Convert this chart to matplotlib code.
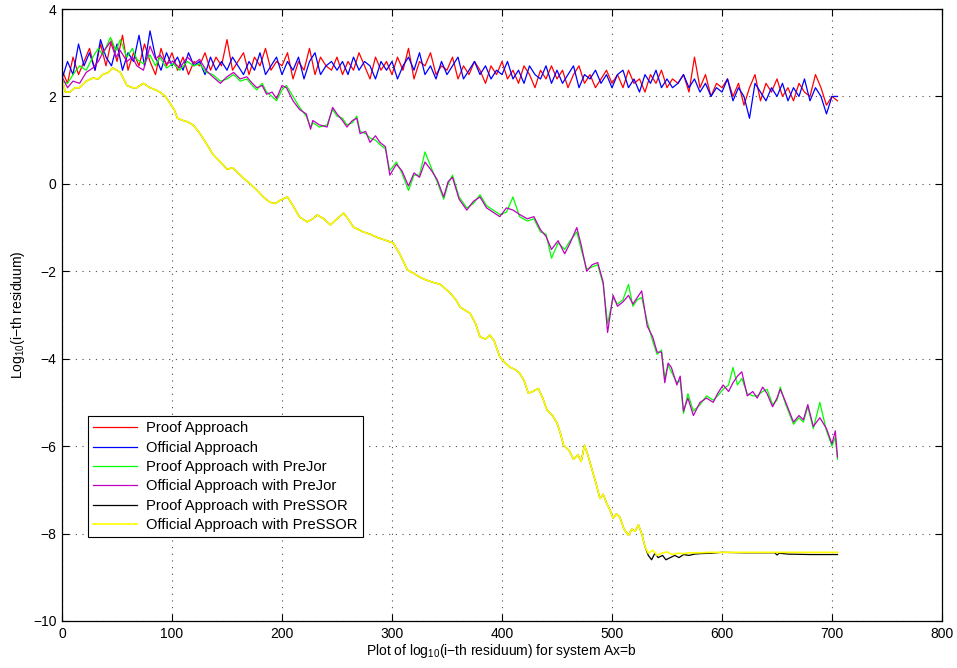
import numpy as np
import matplotlib.pyplot as plt

plt.rcParams['font.family'] = ['Liberation Sans', 'DejaVu Sans']
plt.rcParams['mathtext.fontset'] = 'custom'
plt.rcParams['mathtext.rm'] = 'Liberation Sans'

# plain approaches, sampled every 5 iterations
it_plain = np.arange(0, 710, 5)
proof = [2.6, 2.3, 2.9, 2.5, 2.8, 3.1, 2.6, 3.2, 2.7, 3.3,
         2.8, 3.4, 2.6, 3.0, 2.7, 3.2, 2.8, 2.5, 3.1, 2.7,
         3.0, 2.6, 2.9, 2.5, 2.8, 2.7, 3.0, 2.6, 2.9, 2.7,
         3.3, 2.6, 2.8, 3.0, 2.5, 2.9, 2.7, 3.1, 2.6, 2.8,
         2.7, 3.0, 2.4, 2.8, 2.6, 3.1, 2.5, 2.9, 2.7, 2.6,
         2.9, 2.5, 2.8, 2.6, 3.0, 2.7, 2.4, 2.9, 2.6, 2.8,
         2.5, 2.9, 2.6, 3.1, 2.4, 2.8, 2.7, 3.0, 2.5, 2.7,
         2.6, 2.9, 2.4, 2.7, 2.5, 2.8, 2.6, 2.3, 2.7, 2.5,
         2.8, 2.4, 2.6, 2.3, 2.7, 2.5, 2.2, 2.6, 2.4, 2.7,
         2.4, 2.6, 2.2, 2.5, 2.7, 2.3, 2.5, 2.2, 2.4, 2.6,
         2.3, 2.5, 2.2, 2.6, 2.3, 2.4, 2.1, 2.5, 2.3, 2.6,
         2.2, 2.4, 2.3, 2.5, 2.1, 2.9, 2.2, 2.5, 2.0, 2.3,
         2.2, 2.4, 2.0, 2.3, 1.8, 2.2, 2.5, 1.9, 2.3, 2.1,
         2.4, 2.0, 2.2, 1.9, 2.3, 2.1, 2.0, 2.5, 2.2, 1.8,
         2.0, 1.9]
official = [2.4, 2.8, 2.5, 3.2, 2.7, 3.0, 2.6, 3.3, 2.9, 2.7,
            3.2, 2.6, 3.0, 2.8, 3.4, 2.7, 3.5, 2.9, 2.6, 3.0,
            2.7, 2.9, 2.6, 3.0, 2.7, 2.8, 2.5, 2.9, 2.6, 2.8,
            2.6, 2.9, 2.7, 2.5, 2.8, 2.6, 3.0, 2.5, 2.7, 2.9,
            2.5, 2.8, 2.6, 2.9, 2.4, 2.8, 3.0, 2.5, 2.7, 2.8,
            2.6, 2.8, 2.5, 2.9, 2.6, 2.8, 2.7, 2.4, 2.8, 2.6,
            2.8, 2.4, 2.7, 2.9, 2.6, 3.0, 2.5, 2.7, 2.4, 2.8,
            2.5, 2.7, 2.9, 2.4, 2.6, 2.8, 2.5, 2.7, 2.4, 2.6,
            2.5, 2.8, 2.4, 2.6, 2.3, 2.7, 2.5, 2.4, 2.7, 2.3,
            2.6, 2.3, 2.5, 2.7, 2.2, 2.5, 2.4, 2.6, 2.3, 2.5,
            2.2, 2.5, 2.6, 2.2, 2.4, 2.1, 2.5, 2.3, 2.6, 2.2,
            2.4, 2.2, 2.3, 2.5, 2.2, 2.4, 2.1, 2.3, 2.0, 2.2,
            2.1, 2.4, 1.9, 2.2, 2.0, 1.5, 2.3, 2.1, 1.9, 2.2,
            2.0, 2.3, 1.9, 2.2, 2.0, 2.4, 1.9, 2.2, 2.0, 1.6,
            2.0, 2.0]

# Jacobi preconditioned runs
it_jor = [0, 5, 10, 16, 22, 28, 33, 37, 44, 49, 53, 59, 64, 68, 74, 80, 85, 89, 95,
          101, 107, 114, 120, 125, 131, 137, 144, 150, 156, 162, 168, 173, 177, 182,
          186, 191, 195, 200, 204, 210, 216, 222, 226, 228, 234, 241, 246, 250, 255,
          259, 264, 268, 271, 276, 280, 285, 289, 294, 298, 304, 309, 315, 320, 325,
          330, 336, 341, 347, 351, 355, 361, 368, 374, 380, 386, 392, 398, 404, 410,
          416, 423, 429, 435, 440, 445, 451, 457, 462, 468, 472, 477, 482, 487, 492,
          496, 501, 505, 510, 515, 519, 523, 527, 532, 537, 541, 545, 548, 551, 554,
          559, 562, 565, 569, 574, 580, 586, 592, 596, 601, 606, 610, 614, 618, 623,
          628, 632, 637, 641, 646, 650, 653, 658, 665, 670, 674, 678, 683, 689, 695,
          700, 703, 705]
proof_jor = [2.35, 2.3, 2.5, 2.7, 2.6, 2.9, 3.1, 2.95, 3.35, 3.05, 3.3, 2.9, 3.1, 2.85,
             2.75, 2.95, 2.7, 2.9, 2.65, 2.75, 2.6, 2.8, 2.7, 2.75, 2.55, 2.5, 2.35, 2.4,
             2.5, 2.35, 2.4, 2.25, 2.15, 2.3, 2.1, 2.0, 1.9, 2.15, 2.25, 2.0, 1.75, 1.55,
             1.3, 1.4, 1.3, 1.35, 1.7, 1.55, 1.5, 1.35, 1.4, 1.55, 1.2, 1.15, 1.05, 1.0,
             0.9, 0.8, 0.3, 0.5, 0.25, -0.15, 0.2, 0.2, 0.73, 0.35, 0.05, -0.35, 0.0, 0.2,
             -0.3, -0.55, -0.45, -0.25, -0.5, -0.6, -0.7, -0.65, -0.3, -0.75, -0.85, -0.8,
             -1.1, -1.15, -1.7, -1.35, -1.5, -1.3, -1.1, -1.5, -1.95, -1.9, -1.85, -2.3,
             -3.2, -2.6, -2.75, -2.65, -2.3, -2.8, -2.65, -2.6, -3.15, -3.6, -3.9, -3.8,
             -4.45, -4.15, -4.3, -4.55, -4.5, -5.25, -4.8, -5.2, -5.05, -4.85, -4.95,
             -4.85, -4.7, -4.6, -4.2, -4.6, -4.45, -4.8, -4.85, -4.85, -4.75, -4.7, -5.05,
             -4.95, -4.65, -5.05, -5.5, -5.35, -5.45, -5.1, -5.6, -5.0, -5.65, -6.0, -5.8,
             -6.3]
official_jor = [2.45, 2.2, 2.35, 2.3, 2.55, 2.65, 2.8, 3.0, 3.25, 2.9, 3.05, 2.8, 2.9,
                2.7, 2.6, 3.15, 2.85, 2.95, 2.75, 2.8, 2.65, 2.9, 2.75, 2.85, 2.6, 2.45,
                2.3, 2.45, 2.55, 2.4, 2.45, 2.3, 2.2, 2.25, 2.05, 2.1, 1.95, 2.25, 2.2,
                1.9, 1.7, 1.6, 1.25, 1.45, 1.35, 1.3, 1.75, 1.6, 1.45, 1.3, 1.45, 1.5,
                1.15, 1.2, 0.95, 1.1, 0.95, 0.85, 0.2, 0.45, 0.3, -0.05, 0.25, 0.15, 0.5,
                0.3, 0.1, -0.3, 0.05, 0.15, -0.35, -0.6, -0.4, -0.3, -0.55, -0.65, -0.75,
                -0.55, -0.6, -0.7, -0.8, -0.75, -1.05, -1.2, -1.5, -1.3, -1.6, -1.35, -1.0,
                -1.4, -2.0, -1.85, -1.8, -2.25, -3.4, -2.55, -2.8, -2.7, -2.55, -2.75, -2.6,
                -2.45, -3.25, -3.5, -3.85, -3.85, -4.55, -4.1, -4.2, -4.6, -4.4, -5.2, -4.9,
                -5.3, -5.0, -4.9, -5.0, -4.8, -4.6, -4.75, -4.55, -4.4, -4.3, -4.85, -4.75,
                -4.9, -4.65, -4.8, -5.1, -4.9, -4.7, -5.0, -5.45, -5.3, -5.4, -5.05, -5.55,
                -5.35, -5.6, -5.95, -5.65, -6.25]

# SSOR preconditioned runs: common start, separate flat tails
it_ssor = [0, 3, 7, 12, 16, 22, 28, 33, 37, 42, 46, 50, 53, 59, 64, 68, 74, 80, 85, 89,
           94, 98, 102, 105, 110, 114, 119, 124, 128, 133, 137, 142, 146, 150, 155, 160,
           165, 171, 177, 183, 189, 194, 198, 205, 210, 216, 223, 228, 232, 238, 244,
           250, 256, 260, 265, 270, 274, 280, 286, 293, 301, 307, 314, 320, 325, 331,
           337, 344, 353, 358, 362, 367, 371, 376, 380, 385, 389, 393, 398, 403, 407,
           412, 416, 420, 424, 428, 433, 437, 441, 446, 450, 453, 456, 461, 465, 469,
           472, 475, 478, 482, 486, 489, 492, 495, 498, 501, 504, 507, 511, 515, 518,
           521, 524, 527]
ssor_start = [2.4, 2.1, 2.1, 2.2, 2.2, 2.35, 2.42, 2.4, 2.5, 2.55, 2.65, 2.6, 2.55, 2.25,
              2.2, 2.2, 2.3, 2.2, 2.15, 2.1, 2.0, 1.85, 1.7, 1.5, 1.45, 1.42, 1.35, 1.2,
              1.05, 0.85, 0.68, 0.55, 0.45, 0.33, 0.37, 0.25, 0.13, 0.0, -0.14, -0.3,
              -0.42, -0.45, -0.38, -0.3, -0.5, -0.76, -0.87, -0.8, -0.71, -0.8, -0.94,
              -0.8, -0.67, -0.8, -0.99, -1.05, -1.1, -1.15, -1.22, -1.28, -1.35, -1.6,
              -1.97, -2.05, -2.13, -2.2, -2.25, -2.3, -2.5, -2.65, -2.82, -2.9, -2.96,
              -3.2, -3.5, -3.55, -3.46, -3.6, -3.96, -4.1, -4.19, -4.25, -4.33, -4.5,
              -4.79, -4.75, -4.68, -4.9, -5.18, -5.3, -5.47, -5.7, -5.98, -6.1, -6.3,
              -6.2, -6.35, -5.98, -6.2, -6.55, -6.9, -7.2, -7.1, -7.3, -7.45, -7.65,
              -7.55, -7.62, -7.9, -8.04, -7.9, -7.95, -7.8, -8.0]
tail_proof_x = [530, 533, 536, 539, 542, 546, 549, 553, 557, 561, 565, 570, 575, 580,
                590, 600, 620, 648, 650, 652, 660, 680, 705]
tail_proof_y = [-8.3, -8.5, -8.6, -8.45, -8.55, -8.5, -8.6, -8.55, -8.5, -8.55, -8.48,
                -8.5, -8.47, -8.46, -8.45, -8.43, -8.44, -8.44, -8.49, -8.45, -8.47,
                -8.48, -8.48]
tail_official_x = [530, 533, 537, 541, 545, 550, 555, 560, 565, 570, 580, 590, 600, 650,
                   705]
tail_official_y = [-8.3, -8.45, -8.38, -8.5, -8.45, -8.42, -8.48, -8.45, -8.46, -8.44,
                   -8.44, -8.43, -8.43, -8.43, -8.43]

fig = plt.figure(figsize=(9.57, 6.68), dpi=100)
ax = fig.add_axes([0.0648, 0.0704, 0.9195, 0.9161])

lw = 0.9
ax.plot(it_plain, proof, color='r', lw=lw, label='Proof Approach')
ax.plot(it_plain, official, color='b', lw=lw, label='Official Approach')
ax.plot(it_jor, proof_jor, color=(0, 1, 0), lw=lw, label='Proof Approach with PreJor')
ax.plot(it_jor, official_jor, color='m', lw=lw, label='Official Approach with PreJor')
ax.plot(it_ssor + tail_proof_x, ssor_start + tail_proof_y, color='k', lw=lw,
        label='Proof Approach with PreSSOR')
ax.plot(it_ssor + tail_official_x, ssor_start + tail_official_y, color=(1, 1, 0), lw=1.2,
        label='Official Approach with PreSSOR')

ax.set_xlim(0, 800)
ax.set_ylim(-10, 4)
ax.set_xticks(np.arange(0, 801, 100))
ax.set_yticks(np.arange(-10, 5, 2))
ax.grid(True, linestyle=(0, (1, 5)), color='0.3', linewidth=0.8)
ax.tick_params(direction='in', top=True, right=True, length=5, width=0.8,
               labelsize=10, pad=4)
for s in ax.spines.values():
    s.set_linewidth(0.9)

ax.set_xlabel('Plot of log$_{10}$(i\u2212th residuum) for system Ax=b', fontsize=10,
              labelpad=1)
ax.set_ylabel('Log$_{10}$(i\u2212th residuum)', fontsize=10, labelpad=4)

leg = ax.legend(loc='lower left', bbox_to_anchor=(0.0295, 0.137), borderaxespad=0,
                fancybox=False, framealpha=1, edgecolor='k', fontsize=10.6,
                labelspacing=0.36, handlelength=3.0, handletextpad=0.6,
                borderpad=0.35)
leg.get_frame().set_linewidth(0.8)

fig.savefig('out.png', dpi=100)
